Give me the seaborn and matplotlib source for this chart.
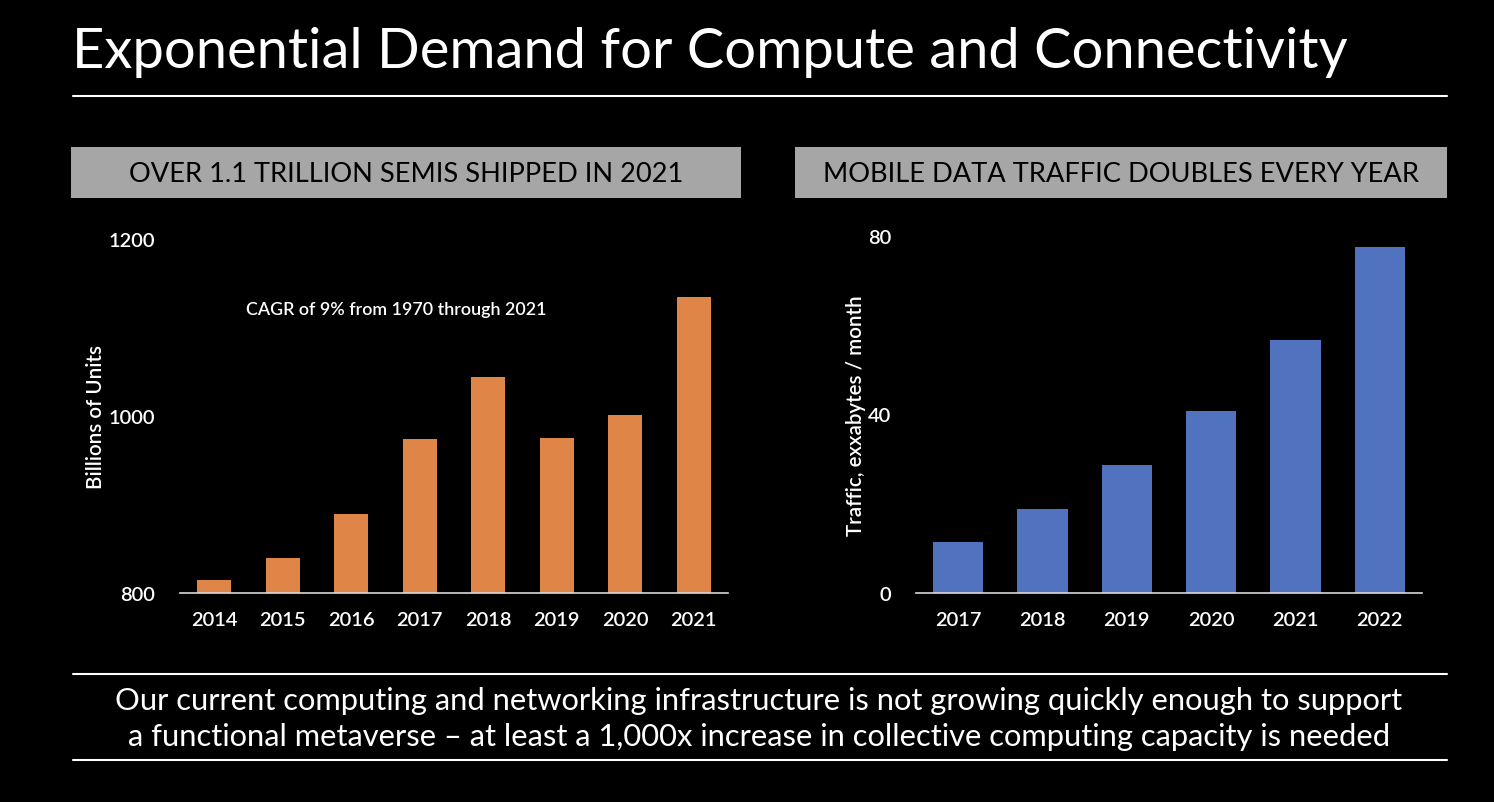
import matplotlib
matplotlib.use("Agg")
import matplotlib.pyplot as plt
from matplotlib.patches import Rectangle
from matplotlib.lines import Line2D
import seaborn as sns
import pandas as pd

# ---- data ----
semi_years = ["2014", "2015", "2016", "2017", "2018", "2019", "2020", "2021"]
semi_units = [815, 839, 889, 974, 1044, 975, 1001, 1134]
semi_ticks = [800, 1000, 1200]

traffic_years = ["2017", "2018", "2019", "2020", "2021", "2022"]
traffic_eb = [11.5, 18.9, 28.6, 40.8, 56.7, 77.5]
traffic_ticks = [0, 40, 80]

title = "Exponential Demand for Compute and Connectivity"
left_header = "OVER 1.1 TRILLION SEMIS SHIPPED IN 2021"
right_header = "MOBILE DATA TRAFFIC DOUBLES EVERY YEAR"
left_ylabel = "Billions of Units"
right_ylabel = "Traffic, exxabytes / month"
cagr_note = "CAGR of 9% from 1970 through 2021"
footer = ("Our current computing and networking infrastructure is not growing quickly enough to support\n"
          "a functional metaverse \u2013 at least a 1,000x increase in collective computing capacity is needed")

ORANGE = "#DF8547"
BLUE = "#5172BF"
GRAY = "#A6A6A6"

sns.set_style("dark")
plt.rcParams["font.family"] = ["Lato", "DejaVu Sans"]

W, H = 1494, 803
fig = plt.figure(figsize=(W / 100, H / 100), dpi=100, facecolor="black")


def fx(px):
    return px / W


def fy(py):
    return 1 - py / H


# title and rule
fig.text(fx(72), fy(52), title, color="white", fontsize=40.4, ha="left", va="center")
fig.add_artist(Line2D([fx(73), fx(1447)], [fy(97), fy(97)], color="white", lw=1.5))

# headers
for x0, x1, txt in [(71, 741, left_header), (795, 1447, right_header)]:
    fig.add_artist(Rectangle((fx(x0), fy(199)), fx(x1) - fx(x0), fy(148) - fy(199),
                             facecolor=GRAY, edgecolor="none", transform=fig.transFigure))
    fig.text(fx((x0 + x1) / 2), fy(174), txt, color="black", fontsize=19.6,
             ha="center", va="center")


def style_axes(ax, cats, yticks, label_x):
    ax.set_facecolor("black")
    for s in ["top", "right", "left"]:
        ax.spines[s].set_visible(False)
    ax.spines["bottom"].set_visible(True)
    ax.spines["bottom"].set_color("#D9D9D9")
    ax.spines["bottom"].set_linewidth(1.2)
    ax.grid(False)
    ax.set_xticks(range(len(cats)), cats, fontweight="semibold", fontsize=14.5)
    ax.set_yticks(yticks, [str(t) for t in yticks], fontweight="semibold", fontsize=14.5)
    ax.tick_params(axis="both", length=0, colors="white")
    ax.tick_params(axis="x", pad=13)
    ax.tick_params(axis="y", pad=18)
    ax.set_xlabel("")
    ax.yaxis.set_label_coords(label_x, 0.5)


# left chart
axL = fig.add_axes([fx(180), fy(594), fx(728) - fx(180), fy(240) - fy(594)])
dfL = pd.DataFrame({"year": semi_years, "units": semi_units})
sns.barplot(data=dfL, x="year", y="units", color=ORANGE, saturation=1, width=0.5,
            edgecolor="none", linewidth=0, ax=axL)
axL.set_ylim(800, 1200)
axL.set_xlim(-0.5, len(semi_years) - 0.5)
axL.set_ylabel(left_ylabel, color="white", fontsize=14.8, fontweight="semibold",
               va="center")
style_axes(axL, semi_years, semi_ticks, (96 - 180) / (728 - 180))
fig.text(fx(396), fy(310), cagr_note, color="white", fontsize=12.9,
         fontweight="semibold", ha="center", va="center")

# right chart
axR = fig.add_axes([fx(916), fy(594), fx(1422) - fx(916), fy(237) - fy(594)])
dfR = pd.DataFrame({"year": traffic_years, "traffic": traffic_eb})
sns.barplot(data=dfR, x="year", y="traffic", color=BLUE, saturation=1, width=0.6,
            edgecolor="none", linewidth=0, ax=axR)
axR.set_ylim(0, 80)
axR.set_xlim(-0.5, len(traffic_years) - 0.5)
axR.set_ylabel(right_ylabel, color="white", fontsize=14.8, fontweight="semibold",
               va="center")
style_axes(axR, traffic_years, traffic_ticks, (856 - 916) / (1422 - 916))

# footer
fig.add_artist(Line2D([fx(73), fx(1447)], [fy(675), fy(675)], color="white", lw=1.5))
fig.text(fx(759), fy(719), footer, color="white", fontsize=22.2, ha="center", va="center",
         linespacing=1.32)
fig.add_artist(Line2D([fx(73), fx(1447)], [fy(761), fy(761)], color="white", lw=1.5))

fig.savefig("out.png", dpi=100, facecolor="black")
